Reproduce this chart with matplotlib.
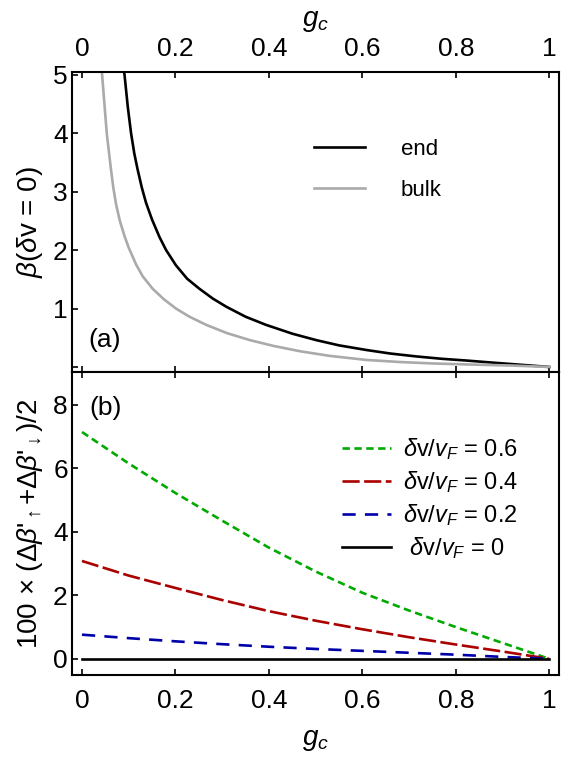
import matplotlib
matplotlib.use("Agg")
import matplotlib.pyplot as plt

plt.rcParams['font.family'] = ['Liberation Sans', 'DejaVu Sans']
plt.rcParams['mathtext.fontset'] = 'custom'
plt.rcParams['mathtext.rm'] = 'Liberation Sans'
plt.rcParams['mathtext.it'] = 'Liberation Sans:italic'
plt.rcParams['mathtext.bf'] = 'Liberation Sans:bold'

# panel (a): beta at dv = 0
g_end = [0.089, 0.091, 0.098, 0.105, 0.112, 0.119, 0.128, 0.137, 0.150, 0.166,
         0.180, 0.201, 0.225, 0.251, 0.280, 0.309, 0.350, 0.394, 0.450, 0.501,
         0.550, 0.609, 0.660, 0.716, 0.770, 0.823, 0.870, 0.919, 0.960, 1.0]
beta_end = [5.1, 5.0, 4.45, 4.0, 3.65, 3.38, 3.07, 2.81, 2.52, 2.22,
            2.0, 1.74, 1.51, 1.34, 1.17, 1.03, 0.86, 0.72, 0.57, 0.46,
            0.37, 0.29, 0.23, 0.18, 0.14, 0.11, 0.08, 0.05, 0.025, 0.0]
g_bulk = [0.042, 0.043, 0.048, 0.053, 0.058, 0.062, 0.067, 0.073, 0.081, 0.091,
          0.100, 0.116, 0.130, 0.151, 0.175, 0.201, 0.230, 0.266, 0.310, 0.359,
          0.410, 0.466, 0.530, 0.609, 0.680, 0.751, 0.840, 0.919, 1.0]
beta_bulk = [5.1, 5.0, 4.5, 4.0, 3.65, 3.38, 3.07, 2.78, 2.5, 2.24,
             2.04, 1.75, 1.55, 1.34, 1.16, 1.0, 0.86, 0.72, 0.58, 0.46,
             0.36, 0.27, 0.19, 0.12, 0.085, 0.06, 0.04, 0.025, 0.0]

# panel (b): 100 x (dB'up + dB'down)/2
g_b = [0, 0.1, 0.2, 0.3, 0.4, 0.5, 0.6, 0.7, 0.8, 0.9, 1.0]
dv06 = [7.14, 6.15, 5.22, 4.35, 3.5, 2.75, 2.08, 1.52, 1.0, 0.5, 0.0]
dv04 = [3.08, 2.62, 2.23, 1.85, 1.5, 1.2, 0.93, 0.68, 0.45, 0.23, 0.0]
dv02 = [0.76, 0.65, 0.55, 0.46, 0.38, 0.31, 0.25, 0.19, 0.13, 0.06, 0.0]
dv00 = [0.0] * len(g_b)

xticks = [0, 0.2, 0.4, 0.6, 0.8, 1.0]
xticklabels = ['0', '0.2', '0.4', '0.6', '0.8', '1']

green = '#00aa00'
red = '#aa0000'
blue = '#0000aa'
grey = '#aaaaaa'
lw = 1.9
tick_fs = 19
label_fs = 20

fig = plt.figure(figsize=(5.75, 7.6), dpi=100)
W, H = 575.0, 760.0
ax1 = fig.add_axes([72 / W, 1 - 372 / H, 487 / W, 300 / H])
ax2 = fig.add_axes([72 / W, 1 - 675 / H, 487 / W, 303 / H])

for ax in (ax1, ax2):
    for s in ax.spines.values():
        s.set_linewidth(1.5)
    ax.set_xlim(-0.0214, 1.021)
    ax.set_xticks(xticks)
    ax.tick_params(direction='in', length=4, width=1.2, labelsize=tick_fs,
                   top=True, bottom=True, left=True, right=False, pad=3)

# (a)
ax1.plot(g_end, beta_end, color='black', lw=lw, label='end')
ax1.plot(g_bulk, beta_bulk, color=grey, lw=lw, label='bulk')
ax1.set_ylim(-0.086, 5.046)
ax1.set_yticks([0, 1, 2, 3, 4, 5])
ax1.set_yticklabels(['', '1', '2', '3', '4', '5'])
ax1.set_xticklabels(xticklabels)
ax1.tick_params(axis='x', labeltop=True, labelbottom=False, pad=8)
ax1.xaxis.set_label_position('top')
ax1.set_xlabel(r'$g_c$', fontsize=label_fs, labelpad=8)
ax1.set_ylabel(r'$\beta$($\delta$v = 0)', fontsize=label_fs, labelpad=6)
ax1.text(0.068, 0.107, '(a)', transform=ax1.transAxes, fontsize=19,
         ha='center', va='center')
ax1.legend(loc='center', bbox_to_anchor=(0.628, 0.673), frameon=False,
           fontsize=16, handlelength=2.3, handletextpad=1.6, labelspacing=0.9)

# (b)
ax2.plot(g_b, dv06, color=green, lw=lw, dashes=[2.8, 1.7],
         label=r'$\delta$v/$v_F$ = 0.6')
ax2.plot(g_b, dv04, color=red, lw=lw, dashes=[6.5, 1.7],
         label=r'$\delta$v/$v_F$ = 0.4')
ax2.plot(g_b, dv02, color=blue, lw=lw, dashes=[5.0, 3.5],
         label=r'$\delta$v/$v_F$ = 0.2')
ax2.plot(g_b, dv00, color='black', lw=lw,
         label=r' $\delta$v/$v_F$ = 0')
ax2.set_ylim(-0.51, 9.03)
ax2.set_yticks([0, 2, 4, 6, 8])
ax2.set_xticklabels(xticklabels)
ax2.tick_params(axis='x', pad=10)
ax2.set_xlabel(r'$g_c$', fontsize=label_fs, labelpad=10)
ax2.set_ylabel(r"100 $\times$ ($\Delta\beta$'$_{\uparrow}$+$\Delta\beta$'$_{\downarrow}$)/2",
               fontsize=label_fs, labelpad=6)
ax2.text(0.068, 0.88, '(b)', transform=ax2.transAxes, fontsize=19,
         ha='center', va='center')
ax2.legend(loc='center', bbox_to_anchor=(0.735, 0.581), frameon=False,
           fontsize=17, handlelength=2.1, handletextpad=0.5, labelspacing=0.3)

fig.savefig('out.png', dpi=100)
